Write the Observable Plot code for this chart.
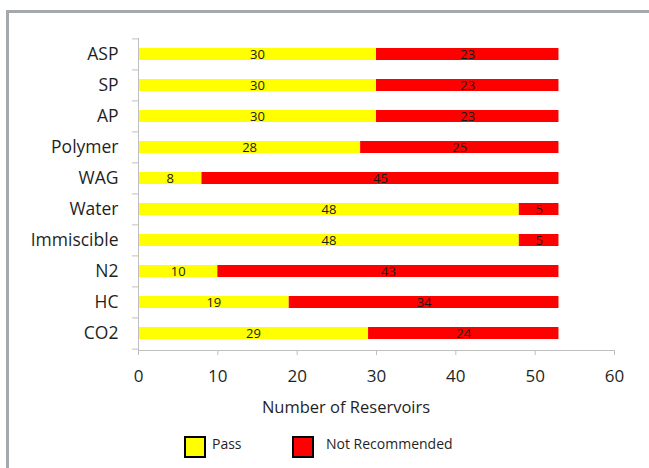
<!DOCTYPE html>
<html>
<head>
<meta charset="utf-8">
<script src="https://cdn.jsdelivr.net/npm/d3@7"></script>
<script src="https://cdn.jsdelivr.net/npm/@observablehq/plot@0.6"></script>
<style>
  html, body { margin: 0; padding: 0; background: #fff; }
  #wrap { position: relative; width: 649px; height: 468px; overflow: hidden; font-family: "Open Sans", sans-serif; color: #1f1f1f; }
  #frame { position: absolute; left: 6px; top: 10px; width: 700px; height: 500px; border-left: 3px solid #a6a9ac; border-top: 3px solid #a6a9ac; box-sizing: border-box; }
  #chart { position: absolute; left: 0; top: 0; }
  #xtitle { position: absolute; left: 346px; top: 395px; transform: translateX(-50%); font-size: 16.5px; white-space: nowrap; }
  .lg { position: absolute; top: 436px; width: 18px; height: 18px; border: 2px solid #000; }
  .lt { position: absolute; top: 434px; font-size: 14px; white-space: nowrap; }
</style>
</head>
<body>
<div id="wrap">
  <div id="frame"></div>
  <div id="chart"></div>
  <div id="xtitle"></div>
  <div id="legend"></div>
</div>
<script>
const categories = ["ASP", "SP", "AP", "Polymer", "WAG", "Water", "Immiscible", "N2", "HC", "CO2"];
const passValues = [30, 30, 30, 28, 8, 48, 48, 10, 19, 29];
const notRecommendedValues = [23, 23, 23, 25, 45, 5, 5, 43, 34, 24];
const seriesNames = ["Pass", "Not Recommended"];
const seriesColors = ["#ffff00", "#ff0000"];
const xTicks = [0, 10, 20, 30, 40, 50, 60];
const xTitle = "Number of Reservoirs";

const rows = [];
categories.forEach((c, i) => {
  rows.push({cat: c, series: seriesNames[0], value: passValues[i]});
  rows.push({cat: c, series: seriesNames[1], value: notRecommendedValues[i]});
});

const W = 649, H = 468, mT = 38, mB = 118, mL = 138, mR = 35;
const step = (H - mB - mT) / categories.length;
const gray = "#bfbfbf";

const chart = Plot.plot({
  width: W,
  height: H,
  marginTop: mT,
  marginBottom: mB,
  marginLeft: mL,
  marginRight: mR,
  style: {fontFamily: "Open Sans, sans-serif", background: "transparent", color: "#1f1f1f"},
  x: {domain: [0, 60]},
  y: {domain: categories, paddingInner: 0.6, paddingOuter: 0.3, label: null},
  color: {domain: seriesNames, range: seriesColors},
  marks: [
    Plot.barX(rows, Plot.stackX({x: "value", y: "cat", fill: "series", order: seriesNames})),
    Plot.textX(rows, Plot.stackX({x: "value", y: "cat", text: d => String(d.value), z: "series", order: seriesNames, fill: "#1a1a1a", fontSize: 13})),
    Plot.frame({anchor: "left", stroke: gray}),
    Plot.frame({anchor: "bottom", stroke: gray}),
    Plot.axisY({tickSize: 0, tickPadding: 20, fontSize: 17.5, fill: "#1f1f1f", label: null}),
    Plot.axisY(categories, {tickSize: 6, tickFormat: () => "", dy: -step / 2, stroke: gray, label: null}),
    Plot.axisY([categories[categories.length - 1]], {tickSize: 6, tickFormat: () => "", dy: step / 2, stroke: gray, label: null}),
    Plot.axisX({ticks: xTicks, tickSize: 5, tickPadding: 14, fontSize: 17, stroke: gray, fill: "#1f1f1f", label: null})
  ]
});
document.getElementById("chart").appendChild(chart);
document.getElementById("xtitle").textContent = xTitle;

const legend = document.getElementById("legend");
const lgPos = [[184, 212], [292, 326]];
seriesNames.forEach((name, i) => {
  const sw = document.createElement("div");
  sw.className = "lg";
  sw.style.left = lgPos[i][0] + "px";
  sw.style.background = seriesColors[i];
  legend.appendChild(sw);
  const t = document.createElement("div");
  t.className = "lt";
  t.style.left = lgPos[i][1] + "px";
  t.textContent = name;
  legend.appendChild(t);
});
</script>
</body>
</html>
